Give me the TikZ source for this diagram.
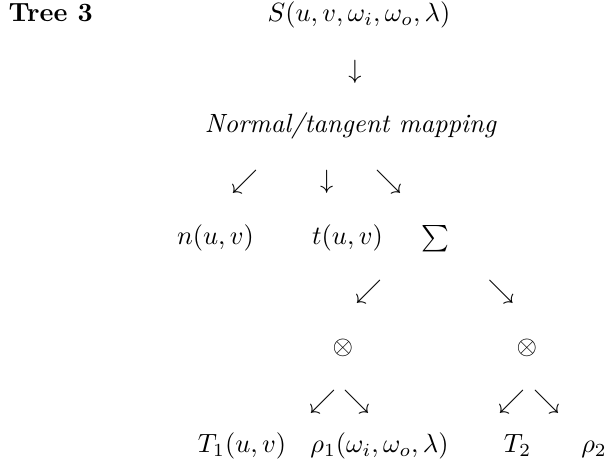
\documentclass[tikz,border=0pt]{standalone}
\usepackage{amsmath}
\usepackage{tikz}

\begin{document}
\begin{tikzpicture}[
    x=0.3788pt, y=-0.3788pt,
    heading/.style={inner sep=0pt, anchor=base west, font=\bfseries},
    term/.style={inner sep=0pt, anchor=base},
    glyph/.style={inner sep=0pt, anchor=center}
]
\useasboundingbox (0,0) rectangle (612,476);
% top of the tree
\node[heading] (title) at (8,22) {Tree 3};
\node[term] (surface) at (359,22) {$S(u,v,\omega_i,\omega_o,\lambda)$};
\node[glyph] (surfacedown) at (355,72) {$\downarrow$};
\node[term] (mapping) at (350.5,133) {\itshape Normal/tangent mapping};
% first split
\node[glyph] (mapleft) at (244.5,182) {$\swarrow$};
\node[glyph] (mapdown) at (326.7,182) {$\downarrow$};
\node[glyph] (mapright) at (388.5,182) {$\searrow$};
\node[term] (normal) at (215.5,245) {$n(u,v)$};
\node[term] (tangent) at (347.5,245) {$t(u,v)$};
\node[term] (sum) at (435,245) {$\sum$};
% sum of two products
\node[glyph] (sumleft) at (368.5,291.5) {$\swarrow$};
\node[glyph] (sumright) at (501,291.5) {$\searrow$};
\node[glyph] (prodone) at (343,348) {$\otimes$};
\node[glyph] (prodtwo) at (527,348) {$\otimes$};
\node[glyph] (prodoneleft) at (322.5,401.5) {$\swarrow$};
\node[glyph] (prodoneright) at (356.5,401.5) {$\searrow$};
\node[glyph] (prodtwoleft) at (511.5,401.5) {$\swarrow$};
\node[glyph] (prodtworight) at (546.5,401.5) {$\searrow$};
% leaves
\node[term] (texone) at (242,453) {$T_1(u,v)$};
\node[term] (rhoone) at (379.5,453) {$\rho_1(\omega_i,\omega_o,\lambda)$};
\node[term] (textwo) at (517.5,453) {$T_2$};
\node[term] (rhotwo) at (594,453) {$\rho_2$};
\end{tikzpicture}
\end{document}
